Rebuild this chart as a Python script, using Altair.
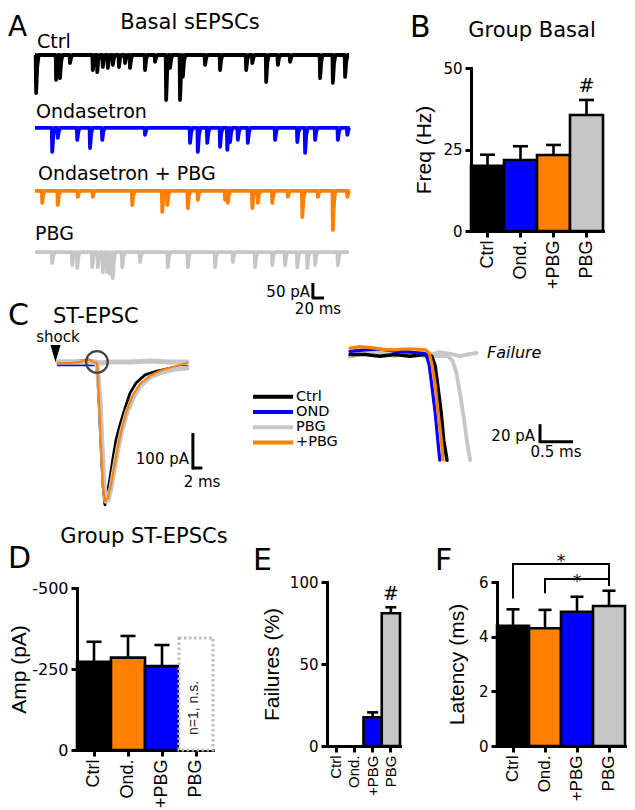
import altair as alt
import pandas as pd

BLACK = "#000000"; BLUE = "#0000ff"; ORANGE = "#ff8000"; GRAY = "#c6c6c6"
SANS = "DejaVu Sans"; ARIAL = "Liberation Sans"

# ---------------- Panel A : spontaneous EPSC events (time ms, amplitude pA)
a_names = ["Ctrl", "Ondasetron", "Ondasetron + PBG", "PBG"]
ctrl_t = [2, 38, 45, 63, 104, 112, 122, 131, 140, 151, 162, 171, 198, 216, 236, 243, 261, 266, 306, 333, 380, 391, 416, 437, 459, 513, 536, 558]
ctrl_a = [127, 83, 77, 27, 50, 57, 40, 43, 33, 40, 27, 43, 50, 23, 150, 43, 150, 73, 33, 50, 50, 27, 90, 33, 23, 77, 93, 73]
ond_t = [31, 41, 76, 99, 121, 198, 279, 293, 310, 333, 346, 351, 365, 383, 432, 472, 486, 504, 545, 562]
ond_a = [80, 33, 40, 67, 40, 23, 50, 80, 50, 63, 73, 47, 40, 50, 40, 47, 83, 40, 40, 23]
opbg_t = [13, 41, 77, 104, 175, 229, 238, 275, 293, 342, 347, 391, 401, 427, 455, 481, 509, 536, 562]
opbg_a = [40, 47, 20, 20, 47, 70, 47, 57, 30, 30, 40, 57, 40, 40, 20, 87, 20, 130, 20]
pbg_t = [31, 67, 76, 103, 113, 122, 130, 135, 140, 157, 189, 239, 275, 324, 356, 396, 427, 450, 472, 490, 504, 545]
pbg_a = [37, 43, 53, 50, 50, 67, 67, 73, 87, 50, 33, 50, 50, 50, 33, 50, 43, 43, 50, 53, 43, 43]

# ---------------- Panel C : evoked ST-EPSC traces (time ms, current pA)
c_ctrl_t = [0, 2.53, 4.63, 6.32, 7.16, 8.21, 8.63, 9.05, 9.47, 9.89, 10.32, 10.95, 11.58, 12.21, 13.05, 14.11, 15.16, 16.42, 18.32, 20.84, 24.0, 27.16]
c_ctrl_v = [3, 3, 6, 9, 6, 3, -106, -234, -349, -405, -377, -329, -271, -220, -177, -129, -86, -57, -34, -23, -14, -9]
c_ond_t = [0, 3.58, 6.74, 8.0, 8.21, 8.63, 9.05, 9.47, 9.89, 10.53, 11.16, 11.79, 12.63, 13.47, 14.53, 15.79, 17.26, 19.37, 21.89, 24.63, 27.16]
c_ond_v = [-6, -6, -6, -6, -3, -106, -234, -349, -400, -391, -357, -306, -243, -191, -140, -100, -66, -40, -26, -17, -14]
c_opbg_t = [0, 2.53, 4.63, 6.32, 7.58, 8.21, 8.63, 9.05, 9.47, 9.89, 10.53, 11.16, 11.79, 12.63, 13.47, 14.53, 15.79, 17.26, 19.37, 21.89, 24.63, 27.16]
c_opbg_v = [0, 0, 3, 9, 3, 0, -106, -234, -349, -395, -386, -349, -300, -237, -186, -134, -91, -60, -37, -20, -9, 0]
c_pbg_t = [0, 3.58, 6.74, 8.21, 8.84, 9.26, 9.68, 10.1, 10.53, 11.16, 11.79, 12.63, 13.47, 14.53, 15.79, 17.26, 19.37, 21.89, 24.63, 27.16]
c_pbg_v = [3, 3, 3, 0, -106, -234, -349, -395, -391, -357, -306, -243, -191, -140, -100, -66, -40, -26, -17, -14]
c_fail_t = [0, 3.58, 7.79, 8.84, 10.95, 15.16, 19.37, 23.58, 27.16]
c_fail_v = [3, 3, 3, 0, 3, 3, 6, 3, 3]

# expanded onset (time ms, current pA)
z_ond_t = [0, 0.23, 0.45, 0.68, 0.91, 1.06, 1.15, 1.20, 1.24, 1.29, 1.33, 1.36]
z_ond_v = [2, 4, 5, 2, 1, 0, -1, -15, -41, -74, -109, -134]
z_opbg_t = [0, 0.15, 0.38, 0.53, 0.68, 0.83, 0.98, 1.14, 1.20, 1.24, 1.29, 1.33, 1.38, 1.41]
z_opbg_v = [6, 8, 6, 4, 4, 5, 5, 4, 0, -14, -39, -71, -106, -134]
z_ctrl_t = [0, 0.23, 0.45, 0.68, 0.91, 1.14, 1.24, 1.29, 1.33, 1.38, 1.42, 1.47]
z_ctrl_v = [-2, -2, -4, -2, -4, -2, -4, -16, -41, -74, -109, -134]
z_pbg_t = [0, 0.23, 0.45, 0.68, 0.91, 1.14, 1.36, 1.48, 1.55, 1.61, 1.67, 1.73, 1.77, 1.82]
z_pbg_v = [-5, 0, 1, -4, 1, -4, -4, -4, -9, -24, -52, -84, -109, -134]
z_fail_t = [0, 0.15, 0.30, 0.45, 0.61, 0.76, 0.91, 1.06, 1.21, 1.36, 1.52, 1.67, 1.82, 1.92]
z_fail_v = [-4, -1, 1, -2, 4, 0, -4, 1, -2, 1, -1, -4, -1, 0]

legend_names = ["Ctrl", "OND", "PBG", "+PBG"]
legend_colors = [BLACK, BLUE, GRAY, ORANGE]

# ---------------- Bar panels
cats = ["Ctrl", "Ond.", "+PBG", "PBG"]
b_freq = [20.0, 21.8, 23.3, 35.6]
b_sem = [3.4, 4.2, 3.1, 4.6]
d_amp = [272, 285, 259]
d_sem = [62, 67, 65]
d_pbg_n1 = [346]
e_fail = [0, 0, 17.5, 80.9]
e_sem = [0, 0, 3.0, 3.7]
f_lat = [4.40, 4.31, 4.91, 5.12]
f_sem = [0.60, 0.67, 0.55, 0.56]
f_br_id = [0, 0, 0, 0, 1, 1, 1, 1]
f_br_cat = ["Ctrl", "Ctrl", "PBG", "PBG", "Ond.", "Ond.", "PBG", "PBG"]
f_br_y = [5.40, 6.66, 6.66, 5.85, 5.59, 6.11, 6.11, 5.85]


def spikes(times, amps, offset, t_end=565):
    pts = [(0.0, 0.0), (t_end, 0.0)]
    for t, a in zip(times, amps):
        pts += [(t - 0.8, 0.0), (t, -a), (t + 2.0, -0.3 * a), (t + 4.5, 0.0)]
    pts = sorted(pts)
    return pd.DataFrame({"t": [p[0] for p in pts], "v": [p[1] + offset for p in pts], "o": list(range(len(pts)))})


def txt(s, x, y, size, align="left", baseline="alphabetic", font=SANS, angle=None, style=None, color=BLACK):
    kw = dict(align=align, baseline=baseline, font=font, fontSize=size, color=color)
    if angle is not None:
        kw["angle"] = angle
    if style:
        kw["fontStyle"] = style
    return alt.Chart(pd.DataFrame({"s": [s]})).mark_text(**kw).encode(
        x=alt.value(x), y=alt.value(y), text="s:N")


one = pd.DataFrame({"k": [0]})

# ---- Panel A layer
ax = alt.X("t:Q", scale=alt.Scale(domain=[0, 565], range=[27, 341], nice=False, zero=False), axis=None)
ay = alt.Y("v:Q", scale=alt.Scale(domain=[0, -900], range=[47, 317], nice=False, zero=False), axis=None)
a_offsets = [0, -243, -453, -657]
a_cols = [BLACK, BLUE, ORANGE, GRAY]
a_events = [(ctrl_t, ctrl_a), (ond_t, ond_a), (opbg_t, opbg_a), (pbg_t, pbg_a)]
a_lines = []
for (tt, aa), off, col in zip(a_events, a_offsets, a_cols):
    a_lines.append(alt.Chart(spikes(tt, aa, off)).mark_line(strokeWidth=3.8, color=col, strokeJoin="round").encode(
        x=ax, y=ay, order="o:Q"))
a_sb = [
    alt.Chart(one).mark_rule(strokeWidth=3, color=BLACK).encode(x=alt.datum(500), y=alt.datum(-760), y2=alt.datum(-812)),
    alt.Chart(one).mark_rule(strokeWidth=3, color=BLACK).encode(x=alt.datum(499), x2=alt.datum(520), y=alt.datum(-810)),
]
a_layer = alt.layer(*a_lines, *a_sb)

# ---- Panel C layer
cx = alt.X("t:Q", scale=alt.Scale(domain=[0, 27.2], range=[50, 179.2], nice=False, zero=False), axis=None)
cy = alt.Y("v:Q", scale=alt.Scale(domain=[0, -400], range=[355, 495], nice=False, zero=False), axis=None)


def trace(t, v, col, w, xe, ye):
    df = pd.DataFrame({"t": t, "v": v, "o": list(range(len(t)))})
    return alt.Chart(df).mark_line(color=col, strokeWidth=w, strokeJoin="round", strokeCap="round").encode(x=xe, y=ye, order="o:Q")


c_layer = alt.layer(
    trace(c_ond_t, c_ond_v, BLUE, 2.5, cx, cy),
    trace(c_ctrl_t, c_ctrl_v, BLACK, 2.8, cx, cy),
    trace(c_fail_t, c_fail_v, GRAY, 5, cx, cy),
    trace(c_pbg_t, c_pbg_v, GRAY, 5, cx, cy),
    trace(c_opbg_t, c_opbg_v, ORANGE, 2, cx, cy),
    alt.Chart(one).mark_point(shape="circle", size=470, filled=False, strokeWidth=2.2, color="#444444", opacity=1).encode(
        x=alt.datum(8.2), y=alt.datum(3)),
    alt.Chart(one).mark_rule(strokeWidth=3, color=BLACK).encode(x=alt.datum(28.4), y=alt.datum(-200), y2=alt.datum(-304)),
    alt.Chart(one).mark_rule(strokeWidth=3, color=BLACK).encode(x=alt.datum(28.2), x2=alt.datum(30.4), y=alt.datum(-300)),
)

# ---- expanded onset layer
zx = alt.X("t:Q", scale=alt.Scale(domain=[0, 2], range=[342, 474], nice=False, zero=False), axis=None)
zy = alt.Y("v:Q", scale=alt.Scale(domain=[0, -150], range=[345, 465], nice=False, zero=False), axis=None)
z_layer = alt.layer(
    trace(z_fail_t, z_fail_v, GRAY, 3.8, zx, zy),
    trace(z_pbg_t, z_pbg_v, GRAY, 3.8, zx, zy),
    trace(z_ctrl_t, z_ctrl_v, BLACK, 3.5, zx, zy),
    trace(z_ond_t, z_ond_v, BLUE, 3.2, zx, zy),
    trace(z_opbg_t, z_opbg_v, ORANGE, 3.2, zx, zy),
    alt.Chart(one).mark_rule(strokeWidth=3, color=BLACK).encode(x=alt.datum(2.879), y=alt.datum(-89), y2=alt.datum(-111)),
    alt.Chart(one).mark_rule(strokeWidth=3, color=BLACK).encode(x=alt.datum(2.86), x2=alt.datum(3.379), y=alt.datum(-111)),
)

# ---- manual legend for panel C
leg_df = pd.DataFrame({"name": legend_names})
ly = alt.Y("name:N", scale=alt.Scale(domain=legend_names, range=[381, 442], padding=0), axis=None)
lc = alt.Color("name:N", scale=alt.Scale(domain=legend_names, range=legend_colors), legend=None)
leg_layer = alt.layer(
    alt.Chart(leg_df).mark_rule(strokeWidth=4).encode(x=alt.value(245), x2=alt.value(285), y=ly, color=lc),
    alt.Chart(leg_df).mark_text(align="left", baseline="middle", font=SANS, fontSize=14.5, color=BLACK).encode(
        x=alt.value(288), y=ly, text="name:N"),
)

texts = [
    txt("A", 0, 28, 28),
    txt("Basal sEPSCs", 182, 21, 21, align="center"),
    txt("Ctrl", 29, 40, 19),
    txt("Ondasetron", 28, 110, 19),
    txt("Ondasetron + PBG", 30, 172, 19),
    txt("PBG", 27, 232, 19),
    txt("50 pA", 302, 289, 15, align="right"),
    txt("20 ms", 310, 306, 15, align="center"),
    txt("B", 402, 29, 30),
    txt("Group Basal", 524, 29, 21, align="center"),
    txt("C", 0, 317, 30),
    txt("ST-EPSC", 45, 315, 21),
    txt("shock", 50, 334, 15, align="center"),
    txt("100 pA", 181, 456, 15, align="right"),
    txt("2 ms", 194, 479, 15, align="center"),
    txt("Failure", 479, 350, 16, style="italic"),
    txt("20 pA", 527, 433, 15, align="right"),
    txt("0.5 ms", 548, 449, 15, align="center"),
    txt("Group ST-EPSCs", 136, 535, 21, align="center"),
    txt("D", 0, 560, 30),
    txt("E", 245, 562, 30),
    txt("F", 427, 562, 30),
]
shock = alt.Chart(one).mark_point(shape="M-0.6,-1L0.6,-1L0,1Z", size=289, filled=True, color=BLACK, opacity=1).encode(
    x=alt.value(47.5), y=alt.value(345.5))

left = alt.layer(a_layer, c_layer, z_layer, leg_layer, shock, *texts).resolve_scale(
    x="independent", y="independent", color="independent").properties(width=69, height=742)


# ---------------- bar panel builder
def y_axis(title, ticks, pad, size=15, expr=None):
    d = dict(title=title, values=ticks, grid=False, domainWidth=3, domainColor=BLACK, domainCap="square",
             tickWidth=3, tickColor=BLACK, tickSize=6, labelFont=SANS, labelFontSize=size, labelColor=BLACK,
             labelPadding=3, labelFlush=False, labelOverlap=False, titleFont=ARIAL, titleFontSize=21,
             titleFontWeight="normal", titleColor=BLACK, titlePadding=pad)
    if expr:
        d["labelExpr"] = expr
    return alt.Axis(**d)


def x_axis(size):
    return alt.Axis(title=None, grid=False, domainWidth=3, domainColor=BLACK, domainCap="square", tickWidth=3,
                    tickColor=BLACK, tickSize=6, labelFont=ARIAL, labelFontSize=size, labelColor=BLACK,
                    labelAngle=270, labelAlign="right", labelBaseline="middle", labelPadding=3, labelOverlap=False)


def bar_panel(vals, sems, colors, x_range, y_dom, y_range, ticks, title, pad, xlab, ylab=15,
              expr=None, cap=14):
    n = len(vals)
    df = pd.DataFrame({"cat": cats[:n], "val": vals, "sem": sems})
    df["top"] = df["val"] + df["sem"]
    xs = alt.Scale(domain=cats, range=x_range, paddingInner=0, paddingOuter=0)
    xa = x_axis(xlab)
    ys = alt.Scale(domain=y_dom, range=y_range, nice=False, zero=True)
    ya = y_axis(title, ticks, pad, ylab, expr)

    def X(f="cat"):
        return alt.X(f + ":N", scale=xs, axis=xa)

    def Y(f):
        return alt.Y(f + ":Q", scale=ys, axis=ya)

    col = alt.Color("cat:N", scale=alt.Scale(domain=cats[:n], range=colors), legend=None)
    bars = alt.Chart(df).transform_filter("datum.val > 0").mark_bar(stroke=BLACK, strokeWidth=2.6).encode(
        x=X(), y=Y("val"), color=col)
    err = alt.Chart(df).transform_filter("datum.sem > 0").mark_rule(strokeWidth=2.6, color=BLACK).encode(
        x=X(), y=Y("val"), y2="top:Q")
    caps = alt.Chart(df).transform_filter("datum.sem > 0").mark_point(
        shape="M-1,0L1,0", size=cap * cap, strokeWidth=2.6, color=BLACK, filled=False, opacity=1).encode(
        x=X(), y=Y("top"))
    return X, Y, [err, bars, caps]


# B
XB, YB, lb = bar_panel(b_freq, b_sem, [BLACK, BLUE, ORANGE, GRAY], [0, 132], [0, 50], [223, 60],
                       [0, 25, 50], "Freq (Hz)", 8, 18, cap=15)
hashB = alt.Chart(pd.DataFrame({"cat": ["PBG"], "h": [42.6], "s": ["#"]})).mark_text(
    font=SANS, fontSize=19, baseline="alphabetic", color=BLACK).encode(x=XB(), y=YB("h"), text="s:N")
panelB = alt.layer(*lb, hashB).properties(width=26, height=223)

# D
XD, YD, ld = bar_panel(d_amp, d_sem, [BLACK, ORANGE, BLUE], [0, 136], [0, 500], [742, 580],
                       [0, 250, 500], "Amp (pA)", 2, 18, ylab=16,
                       expr="datum.value == 0 ? '0' : '-' + datum.label", cap=15)
boxD = alt.Chart(pd.DataFrame({"cat": ["PBG"], "val": d_pbg_n1})).mark_bar(
    fill="white", stroke="#bdbdbd", strokeDash=[2.5, 2.5], strokeWidth=3).encode(x=XD(), y=YD("val"))
n1_text = txt("n=1, n.s.", 117, 700, 14, align="center", baseline="middle", font=ARIAL, angle=270, color="#222222")
panelD = alt.layer(ld[1], boxD, ld[0], ld[2], n1_text).properties(width=250, height=742)

# E
XE, YE, le = bar_panel(e_fail, e_sem, [BLACK, ORANGE, BLUE, GRAY], [0, 73], [0, 100], [738, 574],
                       [0, 50, 100], "Failures (%)", 7, 15, cap=11)
hashE = alt.Chart(pd.DataFrame({"cat": ["PBG"], "h": [89], "s": ["#"]})).mark_text(
    font=SANS, fontSize=19, baseline="alphabetic", color=BLACK).encode(x=XE(), y=YE("h"), text="s:N")
panelE = alt.layer(*le, hashE).properties(width=144, height=738)

# F
XF, YF, lf = bar_panel(f_lat, f_sem, [BLACK, ORANGE, BLUE, GRAY], [0, 128], [0, 6], [738, 574],
                       [0, 2, 4, 6], "Latency (ms)", 11, 17, cap=13)
br_df = pd.DataFrame({"id": f_br_id, "cat": f_br_cat, "y": f_br_y, "o": list(range(len(f_br_id)))})
brackets = alt.Chart(br_df).mark_line(color=BLACK, strokeWidth=2).encode(
    x=XF(), y=YF("y"), detail="id:N", order="o:Q")
star1 = alt.Chart(pd.DataFrame({"cat": ["Ond."], "h": [6.73], "s": ["*"]})).mark_text(
    font=SANS, fontSize=17, dx=16, color=BLACK).encode(x=XF(), y=YF("h"), text="s:N")
star2 = alt.Chart(pd.DataFrame({"cat": ["+PBG"], "h": [6.0], "s": ["*"]})).mark_text(
    font=SANS, fontSize=17, color=BLACK).encode(x=XF(), y=YF("h"), text="s:N")
panelF = alt.layer(*lf, brackets, star1, star2).properties(width=130, height=738)

chart = alt.hconcat(left, panelD, panelE, panelB, panelF, spacing=0, bounds="flush", padding=0).resolve_scale(
    color="independent").configure_view(stroke=None)

chart.save("out.html", embed_options={"renderer": "svg", "actions": False})
